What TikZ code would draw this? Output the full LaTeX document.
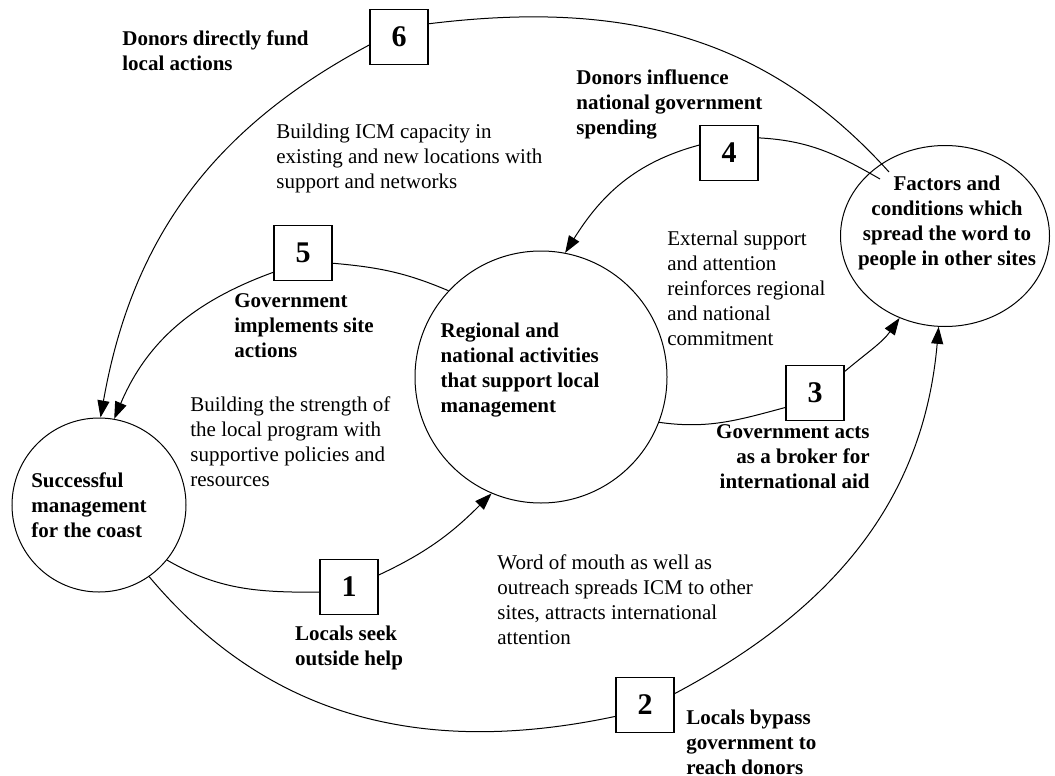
\documentclass[tikz,border=0pt]{standalone}
\usepackage{fontspec}
\setmainfont{Liberation Serif}
\usetikzlibrary{arrows.meta, positioning, shapes.geometric}

\begin{document}
\begin{tikzpicture}[
    x=0.5pt, y=-0.5pt,
    box/.style={rectangle, draw, line width=0.7pt, minimum width=29pt, minimum height=27.5pt, inner sep=0pt, font=\fontsize{15}{18}\selectfont\bfseries},
    spot/.style={circle, draw, line width=0.5pt, inner sep=0pt},
    head/.style={font=\fontsize{10.5}{12.5}\selectfont\bfseries, align=left, inner sep=0pt},
    note/.style={font=\fontsize{10.5}{12.5}\selectfont, align=left, inner sep=0pt},
    link/.style={line width=0.5pt},
    arrow/.style={link, -{Triangle[length=8.5pt, width=6pt]}}
]
\useasboundingbox (0,0) rectangle (1055,776);

% Places
\node[spot, minimum size=87pt] (coast) at (99,505) {};
\node[spot, minimum size=126pt] (region) at (541,377) {};
\node[ellipse, draw, line width=0.5pt, minimum width=104.5pt, minimum height=90.5pt, inner sep=0pt] (word) at (945,236) {};

\node[head] (coasttxt) at (89,505) {Successful\\management\\for the coast};
\node[head] (regiontxt) at (520,370) {Regional and\\national activities\\that support local\\management};
\node[head, align=center] (wordtxt) at (947,223) {Factors and\\conditions which\\spread the word to\\people in other sites};

% Numbered boxes
\node[box] (b1) at (349,587) {1};
\node[box] (b2) at (645,705) {2};
\node[box] (b3) at (815,393) {3};
\node[box] (b4) at (729,153) {4};
\node[box] (b5) at (303,253) {5};
\node[box] (b6) at (399,37) {6};

% Free ends inside the ellipse
\coordinate (w4) at (880,179);
\coordinate (w6) at (889,172);

% Connectors
\draw[link] (coast.-39) to[out=-30, in=180] (b1.190);
\draw[arrow] (b1.22) to[out=25, in=-135] (region.-113);
\draw[link] (coast.-55) to[out=-50, in=192] (b2.201);
\draw[arrow] (b2.21) to[out=28, in=-95] (word.-94);
\draw[link] (region.-21) to[out=-8, in=195] (b3.206);
\draw[arrow] (b3.36) to[out=40, in=-125] (word.-119);
\draw[link] (w4) to[out=150, in=-3] (b4.27);
\draw[arrow] (b4.165) to[out=195, in=58] (region.79);
\draw[link] (region.137) to[out=157, in=-5] (b5.-19);
\draw[arrow] (b5.213) to[out=200, in=67] (coast.80);
\draw[link] (w6) to[out=132, in=7] (b6.24);
\draw[arrow] (b6.195) to[out=208, in=80] (coast.89);

% Labels
\node[head, anchor=west] (l6) at (122,51) {Donors directly fund\\local actions};
\node[note, anchor=west] (n6) at (276,158) {Building ICM capacity in\\existing and new locations with\\support and networks};
\node[head, anchor=west] (l4) at (576,104) {Donors influence\\national government\\spending};
\node[head, anchor=west] (l5) at (234,326) {Government\\implements site\\actions};
\node[note, anchor=west] (n5) at (190,442) {Building the strength of\\the local program with\\supportive policies and\\resources};
\node[note, anchor=west] (n4) at (667,288) {External support\\and attention\\reinforces regional\\and national\\commitment};
\node[head, align=right, anchor=east] (l3) at (870,457) {Government acts\\as a broker for\\international aid};
\node[note, anchor=west] (n2) at (497,600) {Word of mouth as well as\\outreach spreads ICM to other\\sites, attracts international\\attention};
\node[head, below=5pt of b1] (l1) {Locals seek\\outside help};
\node[head, anchor=west] (l2) at (686,742) {Locals bypass\\government to\\reach donors};

\end{tikzpicture}
\end{document}
